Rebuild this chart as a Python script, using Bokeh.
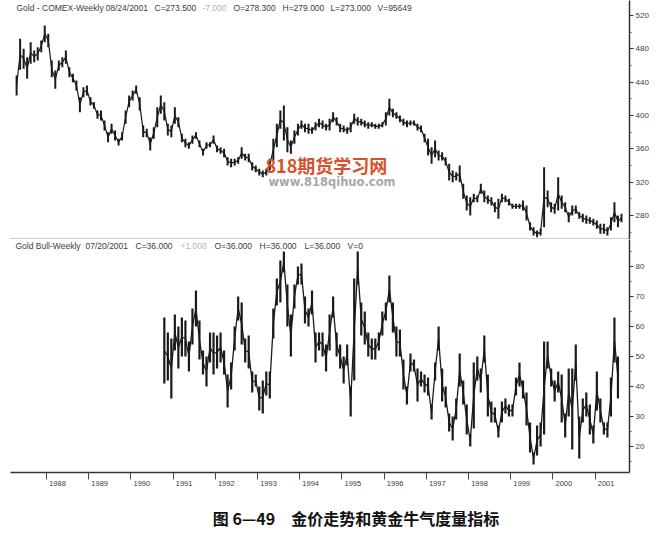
import numpy as np
from bokeh.plotting import figure
from bokeh.layouts import column
from bokeh.models import Range1d, LinearAxis, FixedTicker, Label, ColumnDataSource
from bokeh.embed import file_html
from bokeh.resources import INLINE

# ---------------- data (monthly high / low) ----------------
gold_start = 1987 + 3 / 12.0          # April 1987
gold_hi = [
    448, 492, 480, 470, 488, 478, 482, 490, 508,                       # 1987 Apr-Dec
    498, 466, 454, 466, 470, 478, 458, 450, 442, 422, 434, 436,        # 1988
    422, 416, 406, 406, 394, 380, 390, 382, 372, 380, 406, 424,        # 1989
    430, 436, 422, 388, 384, 374, 386, 410, 424, 416, 390, 388,        # 1990
    410, 398, 378, 372, 368, 376, 380, 370, 360, 368, 368, 376,        # 1991
    364, 362, 360, 350, 348, 348, 350, 362, 354, 354, 344, 340,        # 1992
    336, 334, 336, 348, 372, 390, 406, 412, 386, 370, 382, 390,        # 1993
    394, 390, 390, 386, 392, 396, 394, 390, 396, 404, 398, 390,        # 1994
    388, 386, 392, 402, 398, 396, 394, 392, 392, 390, 390, 392,        # 1995
    404, 420, 408, 404, 400, 396, 394, 394, 394, 390, 388, 378,        # 1996
    372, 362, 370, 358, 356, 350, 342, 334, 332, 340, 318, 304,        # 1997
    302, 306, 304, 318, 310, 304, 302, 296, 300, 306, 304, 300,        # 1998
    294, 294, 294, 298, 292, 272, 266, 262, 264, 338, 310, 296,        # 1999
    294, 326, 304, 296, 284, 292, 292, 284, 282, 280, 278, 276,        # 2000
    274, 270, 270, 266, 278, 296, 280, 282,                            # 2001 Jan-Aug
]
gold_lo = [
    424, 455, 456, 444, 462, 464, 466, 476, 488,
    482, 446, 432, 454, 458, 462, 446, 440, 430, 404, 422, 424,
    412, 408, 396, 394, 382, 368, 378, 370, 364, 370, 390, 410,
    418, 426, 406, 374, 374, 358, 372, 386, 402, 394, 376, 374,
    390, 386, 368, 362, 360, 366, 372, 362, 352, 360, 362, 366,
    356, 354, 350, 340, 338, 340, 342, 348, 346, 344, 334, 332,
    328, 326, 328, 334, 346, 362, 384, 370, 356, 354, 366, 376,
    384, 380, 378, 378, 382, 386, 384, 382, 382, 392, 388, 380,
    380, 378, 380, 390, 388, 388, 386, 384, 386, 384, 384, 386,
    388, 400, 398, 396, 392, 388, 386, 388, 388, 382, 380, 368,
    352, 342, 350, 346, 346, 340, 322, 320, 322, 320, 300, 286,
    280, 296, 296, 306, 296, 294, 292, 284, 276, 296, 296, 292,
    288, 288, 288, 286, 274, 262, 256, 254, 256, 266, 290, 284,
    282, 286, 288, 284, 272, 280, 282, 276, 272, 270, 270, 268,
    264, 258, 258, 256, 262, 272, 266, 272,
]

bull_start = 1990 + 9 / 12.0          # October 1990
bull_hi = [
    63, 58, 56,                                                        # 1990 Oct-Dec
    64, 60, 63, 62, 55, 66, 72, 62, 52, 50, 58, 58,                    # 1991
    57, 58, 52, 44, 48, 60, 70, 68, 56, 57, 45, 44,                    # 1992
    40, 42, 45, 45, 66, 76, 82, 85, 74, 64, 74, 80,                    # 1993
    81, 70, 66, 72, 58, 58, 58, 54, 64, 70, 58, 54,                    # 1994
    50, 54, 40, 76, 85, 68, 65, 58, 56, 56, 58, 65,                    # 1995
    68, 77, 68, 60, 59, 49, 40, 51, 49, 46, 45, 44,                    # 1996
    43, 34, 48, 60, 46, 40, 31, 30, 36, 51, 42, 34,                    # 1997
    24, 48, 50, 46, 57, 44, 35, 33, 27, 35, 36, 34,                    # 1998
    34, 43, 48, 42, 38, 28, 18, 27, 28, 55, 55, 46,                    # 1999
    42, 45, 44, 31, 46, 46, 54, 30, 36, 38, 34, 27,                    # 2000
    45, 36, 28, 28, 43, 63, 50,                                        # 2001 Jan-Jul
]
bull_lo = [
    41, 42, 36,
    52, 46, 50, 50, 45, 54, 60, 49, 44, 40, 48, 44,
    46, 48, 44, 33, 39, 52, 62, 54, 48, 46, 38, 40,
    32, 31, 37, 36, 56, 67, 68, 78, 60, 50, 66, 74,
    74, 61, 60, 64, 48, 52, 50, 45, 52, 63, 50, 46,
    41, 47, 30, 42, 74, 57, 54, 50, 49, 49, 52, 57,
    62, 68, 58, 50, 50, 39, 34, 45, 45, 35, 40, 38,
    37, 29, 42, 52, 35, 33, 25, 22, 29, 40, 34, 24,
    20, 26, 42, 38, 48, 30, 28, 28, 23, 28, 31, 30,
    30, 37, 40, 36, 27, 18, 14, 17, 20, 24, 46, 40,
    35, 38, 28, 23, 30, 19, 42, 16, 28, 30, 24, 21,
    32, 28, 24, 23, 30, 48, 36,
]

year_labels = ["1988", "1989", "1990", "1991", "1992", "1993", "1994",
               "1995", "1996", "1997", "1998", "1999", "2000", "2001"]
price_ticks = [280, 320, 360, 400, 440, 480, 520]
bull_ticks = [20, 30, 40, 50, 60, 70, 80]

gold_header = ["Gold - COMEX-Weekly", "08/24/2001", "C=273.500", "-7.000",
               "O=278.300", "H=279.000", "L=273.000", "V=95649"]
bull_header = ["Gold Bull-Weekly", "07/20/2001", "C=36.000", "+1.000",
               "O=36.000", "H=36.000", "L=36.000", "V=0"]
caption = "图 6—49　金价走势和黄金牛气度量指标"
wm_cn = "818期货学习网"
wm_url = "www.818qihuo.com"

# ---------------- layout helpers (page pixel -> data units) ----------------
def px2yr(px):
    return 1988 + (px - 46) / 42.2

def py2price(py):
    return 520 - (py - 15) * 1.2

def py2bull(py):
    return 80 - (py - 266) / 3.0

FONT = "Liberation Sans"
INK = "#1a1a1a"
TXT = "#3c3c3c"
LIGHT = "#b4b4b4"


def monthly(start, hi, lo):
    hi = np.asarray(hi, float)
    lo = np.asarray(lo, float)
    t = start + (np.arange(len(hi)) + 0.5) / 12.0
    return ColumnDataSource(dict(t=t, hi=hi, lo=lo, mid=(hi + lo) / 2.0))


xr = Range1d(px2yr(10), px2yr(629))

common = dict(width=658, x_range=xr, output_backend="svg", toolbar_location=None,
              x_axis_location=None, y_axis_location=None, outline_line_color=None,
              background_fill_color="white", border_fill_color="white",
              min_border_left=10, min_border_right=29, min_border_top=0)

# ---------------- top panel: gold price (page y 0..239) ----------------
top = figure(height=239, y_range=Range1d(py2price(239), py2price(0)),
             min_border_bottom=0, **common)
top.grid.visible = False

gsrc = monthly(gold_start, gold_hi, gold_lo)
top.segment(x0="t", y0="lo", x1="t", y1="hi", source=gsrc, line_color=INK, line_width=2.0)
top.line(x="t", y="mid", source=gsrc, line_color=INK, line_width=1.2)

yax = LinearAxis(ticker=FixedTicker(ticks=price_ticks,
                                    minor_ticks=[v - 20 for v in price_ticks] + [price_ticks[-1] + 20]),
                 major_tick_out=4, major_tick_in=0, minor_tick_out=2, minor_tick_in=0,
                 major_label_standoff=2, axis_line_width=1.5, axis_line_color="#333333",
                 major_tick_line_color="#333333", minor_tick_line_color="#555555",
                 major_label_text_font=FONT, major_label_text_font_size="8px",
                 major_label_text_color=TXT)
top.add_layout(yax, "right")

sep = LinearAxis(ticker=FixedTicker(ticks=[]), major_tick_out=0, major_tick_in=0,
                 minor_tick_out=0, minor_tick_in=0, major_label_standoff=0,
                 axis_line_width=1.5, axis_line_color="#333333")
top.add_layout(sep, "below")

gx = [16, 105, 154, 202, 233, 282, 330, 377]
for i, (txt, px) in enumerate(zip(gold_header, gx)):
    top.add_layout(Label(x=px2yr(px), y=py2price(7), text=txt, text_font=FONT,
                         text_font_size="8.5px", text_color=LIGHT if i == 3 else TXT,
                         text_baseline="middle"))

top.add_layout(Label(x=px2yr(265), y=py2price(164), text=wm_cn, text_font="Noto Sans CJK SC",
                     text_font_size="18px", text_font_style="bold", text_color="#d9502c",
                     text_baseline="middle"))
top.add_layout(Label(x=px2yr(268), y=py2price(181), text=wm_url, text_font="DejaVu Sans",
                     text_font_size="11.5px", text_font_style="bold", text_color="#a8a8a8",
                     text_baseline="middle"))

# ---------------- bottom panel: bullish consensus (page y 239..494) ----------------
bot = figure(height=255, y_range=Range1d(py2bull(472), py2bull(239)),
             min_border_bottom=22, **common)
bot.grid.visible = False

bsrc = monthly(bull_start, bull_hi, bull_lo)
bot.segment(x0="t", y0="lo", x1="t", y1="hi", source=bsrc, line_color=INK, line_width=2.2)
bot.line(x="t", y="mid", source=bsrc, line_color=INK, line_width=1.3)

bax = LinearAxis(ticker=FixedTicker(ticks=bull_ticks,
                                    minor_ticks=[v - 5 for v in bull_ticks] + [bull_ticks[-1] + 5]),
                 major_tick_out=4, major_tick_in=0, minor_tick_out=2, minor_tick_in=0,
                 major_label_standoff=2, axis_line_width=1.5, axis_line_color="#333333",
                 major_tick_line_color="#333333", minor_tick_line_color="#555555",
                 major_label_text_font=FONT, major_label_text_font_size="8px",
                 major_label_text_color=TXT)
bot.add_layout(bax, "right")

label_pos = [int(s) + 0.26 for s in year_labels]
year_pos = [float(int(s)) for s in year_labels]
xax = LinearAxis(ticker=FixedTicker(ticks=label_pos, minor_ticks=year_pos),
                 major_label_overrides={p: s for p, s in zip(label_pos, year_labels)},
                 major_tick_out=0, major_tick_in=0, minor_tick_out=7, minor_tick_in=0,
                 major_label_standoff=1, axis_line_width=1.5, axis_line_color="#333333",
                 minor_tick_line_color="#444444",
                 major_label_text_font=FONT, major_label_text_font_size="7.5px",
                 major_label_text_color=TXT)
bot.add_layout(xax, "below")

bxs = [15, 85, 135, 180, 214, 259, 304, 347]
for i, (txt, px) in enumerate(zip(bull_header, bxs)):
    bot.add_layout(Label(x=px2yr(px), y=py2bull(245), text=txt, text_font=FONT,
                         text_font_size="8.5px", text_color=LIGHT if i == 3 else TXT,
                         text_baseline="middle"))

# ---------------- caption strip (page y 494..533) ----------------
cap = figure(width=658, height=39, x_range=Range1d(0, 658), y_range=Range1d(39, 0),
             output_backend="svg", toolbar_location=None, x_axis_location=None,
             y_axis_location=None, outline_line_color=None, min_border=0,
             background_fill_color="white", border_fill_color="white")
cap.grid.visible = False
cap.add_layout(Label(x=215, y=23, text=caption, text_font="Noto Sans CJK SC",
                     text_font_size="16px", text_font_style="bold", text_color="#111111",
                     text_baseline="middle"))

layout = column(top, bot, cap, spacing=0)
open("out.html", "w").write(file_html(layout, INLINE))
